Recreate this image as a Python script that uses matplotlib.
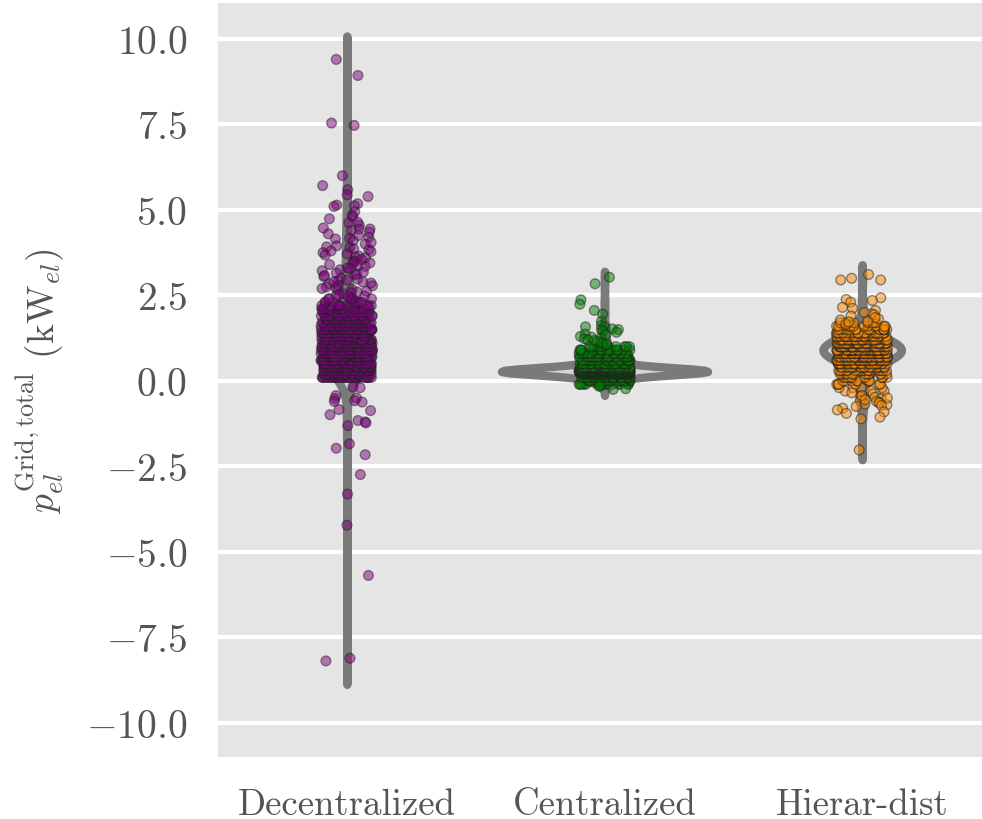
import numpy as np
import pandas as pd
import matplotlib
matplotlib.use("Agg")
import matplotlib.pyplot as plt
import seaborn as sns

# Categorias e cores
metodos = ["Decentralized", "Centralized", "Hierar-dist"]
cores = ["purple", "green", "darkorange"]

# Decentralized: nucleo denso (nivel em kW e numero de pontos) + pontos isolados
dec_niveis = [0.1, 0.2, 0.3, 0.4, 0.5, 0.6, 0.7, 0.8, 0.9, 1.0, 1.1, 1.2,
              1.3, 1.4, 1.5, 1.6, 1.7, 1.8, 1.9, 2.0, 2.1, 2.2, 2.3, 2.4]
dec_contagens = [38, 42, 44, 42, 42, 40, 40, 38, 38, 36, 35, 34,
                 33, 32, 31, 30, 28, 26, 24, 20, 16, 12, 9, 6]
dec_isolados = [9.4, 8.93, 7.54, 7.47, 6.0, 5.71, 5.59, 5.44, 5.39, 5.18,
                5.14, 5.12, 5.1, 4.95, 4.83, 4.8, 4.74, 4.64, 4.62, 4.55,
                4.47, 4.44, 4.44, 4.4, 4.3, 4.2, 4.17, 4.15, 4.1, 4.0,
                3.92, 3.9, 3.86, 3.84, 3.75, 3.71, 3.65, 3.62, 3.6, 3.5,
                3.48, 3.42, 3.4, 3.35, 3.3, 3.22, 3.18, 3.13, 3.1, 3.05,
                2.98, 2.93, 2.89, 2.84, 2.8, 2.75, 2.7, 2.66, 2.6, 2.55, 2.5,
                4.35, 4.25, 4.05, 3.95, 3.8, 3.78, 3.68, 3.55, 3.45, 3.38,
                3.28, 3.25, 3.15, 3.08, 3.0, 2.95, 2.9, 2.86, 2.78, 2.72,
                2.68, 2.62, 2.58, 2.52, 2.48, 2.46,
                -0.18, -0.2, -0.43, -0.5, -0.52, -0.58, -0.6, -0.62, -0.84,
                -0.87, -0.99, -1.16, -1.2, -1.23, -1.31, -1.84, -1.97, -2.16,
                -2.74, -3.31, -4.22, -5.69, -8.11, -8.19]

# Centralized
cen_niveis = [-0.1, 0.0, 0.1, 0.2, 0.25, 0.3, 0.35, 0.4, 0.5, 0.6, 0.7,
              0.8, 0.9, 1.0]
cen_contagens = [15, 30, 45, 80, 150, 150, 80, 50, 35, 30, 25, 20, 15, 10]
cen_isolados = [3.03, 2.84, 2.37, 2.24, 2.06, 1.95, 1.74, 1.62, 1.58, 1.58,
                1.52, 1.5, 1.5, 1.45, 1.37, 1.3, 1.28, 1.26, 1.23, 1.15,
                1.1, 1.05, 1.42, 1.35, 1.2, 1.18, 1.12, 1.08,
                -0.14, -0.16, -0.23, -0.25]

# Hierar-dist
hie_niveis = [-0.3, -0.2, -0.1, 0.0, 0.1, 0.2, 0.3, 0.4, 0.5, 0.6, 0.7,
              0.8, 0.9, 1.0, 1.1, 1.2, 1.3, 1.4, 1.5, 1.6, 1.7]
hie_contagens = [3, 4, 6, 8, 11, 15, 20, 27, 36, 48, 62,
                 72, 75, 72, 62, 48, 36, 26, 18, 11, 6]
hie_isolados = [3.11, 3.0, 2.95, 2.95, 2.43, 2.38, 2.35, 2.3, 2.15, 2.12,
                2.06, 1.96, 1.93, 1.9, 1.81, 1.78, 1.65, 1.58, 2.0, 1.85,
                1.75, 1.72, -0.35, -0.38, -0.45, -0.48, -0.52, -0.58,
                -0.62, -0.68, -0.7, -0.43, -0.5, -0.55, -0.6, -0.65, -0.72,
                -0.75, -0.8, -0.85, -0.91, -0.95, -1.06, -1.11, -2.02]

grupos = [(dec_niveis, dec_contagens, dec_isolados),
          (cen_niveis, cen_contagens, cen_isolados),
          (hie_niveis, hie_contagens, hie_isolados)]

linhas = []
for nome, (niveis, contagens, isolados) in zip(metodos, grupos):
    valores = np.concatenate([np.repeat(niveis, contagens), isolados])
    linhas.append(pd.DataFrame({"metodo": nome, "p": valores}))
df = pd.concat(linhas, ignore_index=True)

# Estilo geral
plt.rcParams.update({
    "font.family": "serif",
    "font.serif": ["cmr10"],
    "mathtext.fontset": "cm",
    "axes.formatter.use_mathtext": True,
    "text.color": "#555555",
    "axes.labelcolor": "#555555",
    "xtick.color": "#555555",
    "ytick.color": "#555555",
})

fig = plt.figure(figsize=(9.82, 8.2), dpi=100)
ax = fig.add_axes([218 / 982, 62 / 820, 773 / 982, 754 / 820])
ax.set_facecolor("#e5e5e5")

sns.violinplot(data=df, x="metodo", y="p", order=metodos, inner=None,
               color="#d6d6d6", linecolor="#7a7a7a", linewidth=6, cut=2,
               density_norm="area", ax=ax)
np.random.seed(3)
sns.stripplot(data=df, x="metodo", y="p", order=metodos, hue="metodo",
              hue_order=metodos, palette=cores, alpha=0.5, size=7,
              linewidth=1, edgecolor="#222222", jitter=True, legend=False,
              ax=ax)

ax.set_xlim(-0.5, 2.5)
ax.set_ylim(-11.0, 11.05)
ax.set_yticks([-10, -7.5, -5, -2.5, 0, 2.5, 5, 7.5, 10])
ax.set_axisbelow(True)
ax.grid(axis="y", color="white", linewidth=3)
ax.grid(axis="x", visible=False)
for lado in ax.spines.values():
    lado.set_visible(False)
ax.tick_params(axis="both", length=0, pad=22)
ax.tick_params(axis="x", labelsize=26.5)
ax.tick_params(axis="y", labelsize=28.5)

ax.set_xlabel("")
ax.set_ylabel(r"$p_{el}^{\mathrm{Grid,total}}$ $(\mathrm{kW}_{el})$",
              fontsize=27)
ax.yaxis.set_label_coords(-0.195, 0.5)

fig.savefig("out.png", dpi=100)
